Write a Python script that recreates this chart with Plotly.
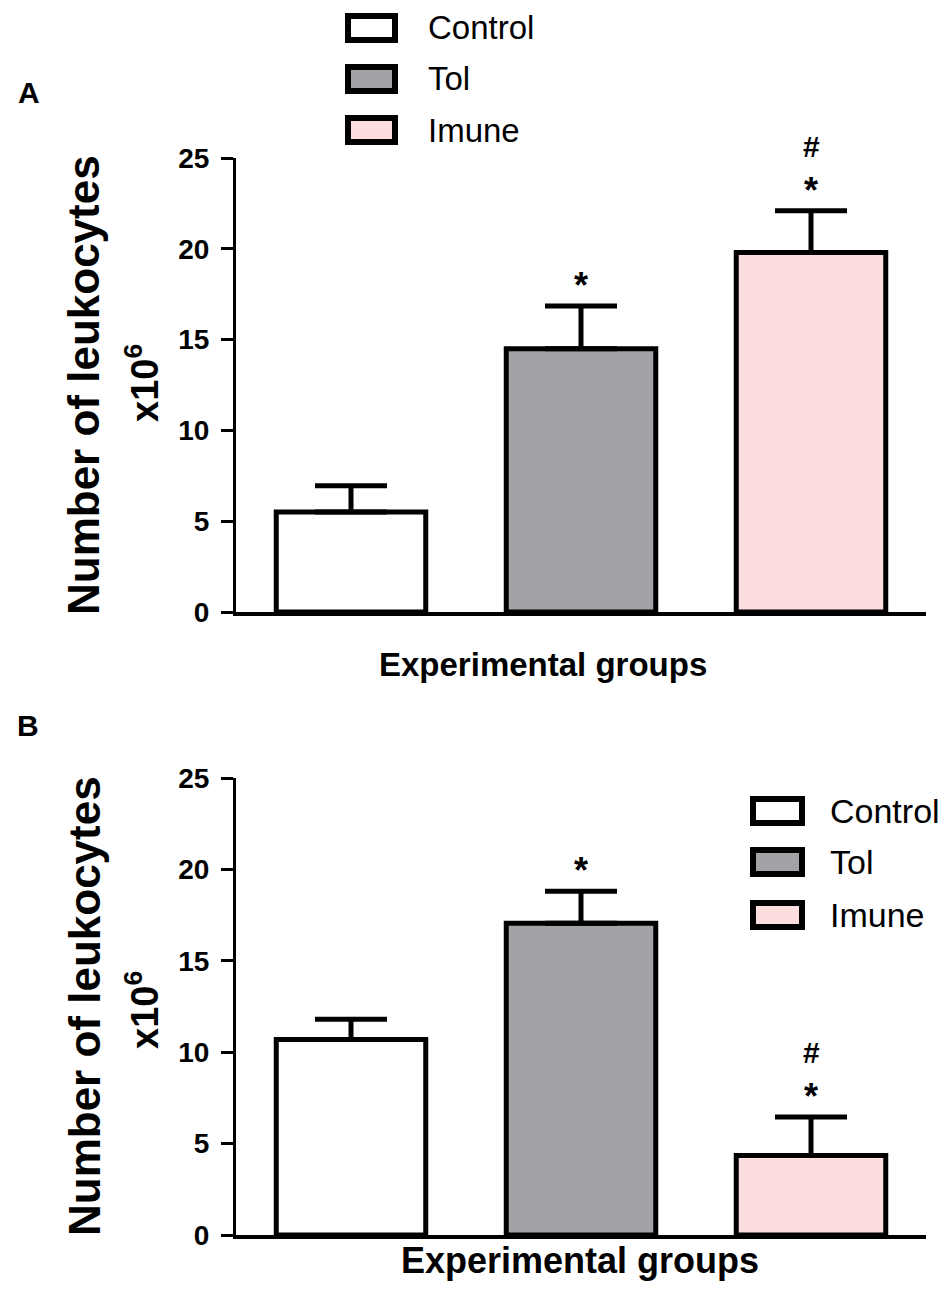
import plotly.graph_objects as go

# values (mean, upward error)
groups = ["Control", "Tol", "Imune"]
colors = ["#FFFFFF", "#A2A2A7", "#FDDEDE"]

mean_A = [5.5, 14.5, 19.8]
err_A = [1.45, 2.35, 2.3]
star_A = ["", "*", "*"]
hash_A = ["", "", "#"]

mean_B = [10.7, 17.05, 4.35]
err_B = [1.1, 1.75, 2.1]
star_B = ["", "*", "*"]
hash_B = ["", "", "#"]

y_ticks = [0, 5, 10, 15, 20, 25]

# figure is a bit smaller than the 950x1292 window so the default 8px body margin fits
OFF = 8
W, H = 950 - 2 * OFF, 1292 - 2 * OFF
FONT = "Arial, Liberation Sans, sans-serif"


def px_x(x):
    # window pixel -> paper fraction
    return (x - OFF) / W


def px_y(y):
    return 1 - (y - OFF) / H


fig = go.Figure()

panels = [
    ("x", "y", mean_A, err_A, star_A, hash_A),
    ("x2", "y2", mean_B, err_B, star_B, hash_B),
]

for xa, ya, means, errs, stars, hashes in panels:
    fig.add_trace(go.Bar(
        x=groups, y=means, xaxis=xa, yaxis=ya, width=0.65,
        marker=dict(color=colors, line=dict(color="black", width=5)),
        error_y=dict(type="data", array=errs, arrayminus=[0] * len(errs),
                     symmetric=False, color="black", thickness=5, width=36),
        showlegend=False, hoverinfo="skip",
    ))
    for g, m, e, s, h in zip(groups, means, errs, stars, hashes):
        if s:
            fig.add_annotation(x=g, y=m + e, xref=xa, yref=ya, text="<b>%s</b>" % s,
                               showarrow=False, yanchor="bottom", yshift=-2,
                               font=dict(family=FONT, size=36, color="black"))
        if h:
            fig.add_annotation(x=g, y=m + e, xref=xa, yref=ya, text="<b>%s</b>" % h,
                               showarrow=False, yanchor="bottom", yshift=46,
                               font=dict(family=FONT, size=30, color="black", weight="bold"))

xdom = [px_x(236), px_x(926)]
yaxis_style = dict(
    range=[0, 25], tickvals=y_ticks, ticks="outside", ticklen=12, tickwidth=3,
    tickcolor="black", showline=True, linewidth=3, linecolor="black",
    showgrid=False, zeroline=False, ticklabelstandoff=6,
    tickfont=dict(family=FONT, size=28, color="black", weight="bold"),
)
xaxis_style = dict(
    showline=True, linewidth=4, linecolor="black", showticklabels=False,
    ticks="", showgrid=False, zeroline=False, range=[-0.5, 2.5],
)

fig.update_layout(
    width=W, height=H, margin=dict(l=0, r=0, t=0, b=0, autoexpand=False),
    plot_bgcolor="white", paper_bgcolor="white", showlegend=False,
    xaxis=dict(domain=xdom, anchor="y", **xaxis_style),
    yaxis=dict(domain=[px_y(612), px_y(158)], anchor="x", **yaxis_style),
    xaxis2=dict(domain=xdom, anchor="y2", **xaxis_style),
    yaxis2=dict(domain=[px_y(1235), px_y(778)], anchor="x2", **yaxis_style),
)

# panel letters, axis titles
texts = [
    ("<b>A</b>", 16, 93, 30, 0, "left"),
    ("<b>B</b>", 15, 725, 30, 0, "left"),
    ("<b>Experimental groups</b>", 543, 664, 33, 0, "center"),
    ("<b>Experimental groups</b>", 580, 1260, 36, 0, "center"),
    ("<b>Number of leukocytes</b>", 84, 385, 44, -90, "center"),
    ("<b>x10<sup>6</sup></b>", 142, 383, 38, -90, "center"),
    ("<b>Number of leukocytes</b>", 84, 1006, 44, -90, "center"),
    ("<b>x10<sup>6</sup></b>", 142, 1010, 38, -90, "center"),
]
for t, x, y, size, ang, anchor in texts:
    fig.add_annotation(x=px_x(x), y=px_y(y), xref="paper", yref="paper", text=t,
                       showarrow=False, textangle=ang, xanchor=anchor, yanchor="middle",
                       font=dict(family=FONT, size=size, color="black"))

# hand-drawn legends (wide rectangular swatches)
legends = [
    (348, 395, 426, [28, 79, 130], 33),
    (753, 802, 828, [811, 862, 915], 34),
]
for x0, x1, tx, ys, size in legends:
    for g, c, yc in zip(groups, colors, ys):
        fig.add_shape(type="rect", xref="paper", yref="paper",
                      x0=px_x(x0), x1=px_x(x1), y0=px_y(yc + 12), y1=px_y(yc - 12),
                      fillcolor=c, line=dict(color="black", width=6))
        fig.add_annotation(x=px_x(tx), y=px_y(yc), xref="paper", yref="paper", text=g,
                           showarrow=False, xanchor="left", yanchor="middle",
                           font=dict(family=FONT, size=size, color="black"))

fig.write_html("out.html")
